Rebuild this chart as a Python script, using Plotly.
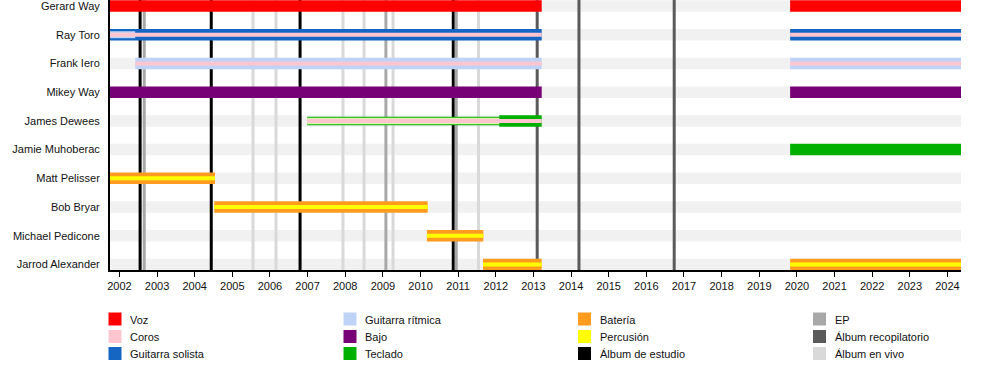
import plotly.graph_objects as go

# ---------------- data ----------------
members = ["Gerard Way", "Ray Toro", "Frank Iero", "Mikey Way", "James Dewees",
           "Jamie Muhoberac", "Matt Pelisser", "Bob Bryar", "Michael Pedicone",
           "Jarrod Alexander"]

role_names = ["Voz", "Coros", "Guitarra solista", "Guitarra rítmica", "Bajo",
              "Teclado", "Batería", "Percusión"]
role_colors = ["#ff0000", "#ffc6d0", "#1466c2", "#bfd3f6", "#770077",
               "#00b000", "#ff9c1f", "#ffff00"]

event_names = ["Álbum de estudio", "EP", "Álbum recopilatorio", "Álbum en vivo"]
event_colors = ["#000000", "#a8a8a8", "#5a5a5a", "#d9d9d9"]

timeline_start = 2001.75
timeline_end = 2024.36

# member periods (decimal years)
period_member = [
    "Gerard Way", "Gerard Way",
    "Ray Toro", "Ray Toro", "Ray Toro", "Ray Toro", "Ray Toro",
    "Frank Iero", "Frank Iero", "Frank Iero", "Frank Iero",
    "Mikey Way", "Mikey Way",
    "James Dewees", "James Dewees", "James Dewees",
    "Jamie Muhoberac",
    "Matt Pelisser", "Matt Pelisser",
    "Bob Bryar", "Bob Bryar",
    "Michael Pedicone", "Michael Pedicone",
    "Jarrod Alexander", "Jarrod Alexander", "Jarrod Alexander", "Jarrod Alexander",
]
period_role = [
    "Voz", "Voz",
    "Guitarra solista", "Guitarra solista", "Guitarra rítmica", "Coros", "Coros",
    "Guitarra rítmica", "Guitarra rítmica", "Coros", "Coros",
    "Bajo", "Bajo",
    "Teclado", "Teclado", "Coros",
    "Teclado",
    "Batería", "Percusión",
    "Batería", "Percusión",
    "Batería", "Percusión",
    "Batería", "Batería", "Percusión", "Percusión",
]
period_kind = [
    "main", "main",
    "main", "main", "second", "backing", "backing",
    "main", "main", "backing", "backing",
    "main", "main",
    "touring", "main", "backing",
    "main",
    "main", "backing",
    "main", "backing",
    "main", "backing",
    "main", "main", "backing", "backing",
]
period_start = [
    2001.75, 2019.82,
    2001.75, 2019.82, 2001.75, 2001.75, 2019.82,
    2002.42, 2019.82, 2002.42, 2019.82,
    2001.75, 2019.82,
    2006.99, 2012.09, 2006.99,
    2019.82,
    2001.75, 2001.75,
    2004.52, 2004.52,
    2010.17, 2010.17,
    2011.66, 2019.82, 2011.66, 2019.82,
]
period_end = [
    2013.22, 2024.36,
    2013.22, 2024.36, 2002.42, 2013.22, 2024.36,
    2013.22, 2024.36, 2013.22, 2024.36,
    2013.22, 2024.36,
    2012.09, 2013.22, 2013.22,
    2024.36,
    2004.54, 2004.54,
    2010.19, 2010.19,
    2011.67, 2011.67,
    2013.22, 2024.36, 2013.22, 2024.36,
]

event_dates = [2002.55, 2002.66, 2004.44, 2005.55, 2006.16, 2006.80, 2007.94,
               2008.50, 2009.08, 2009.27, 2010.87, 2010.95, 2011.54, 2013.10,
               2014.21, 2016.74]
event_types = ["Álbum de estudio", "EP", "Álbum de estudio", "Álbum en vivo",
               "Álbum en vivo", "Álbum de estudio", "Álbum en vivo", "Álbum en vivo",
               "EP", "Álbum en vivo", "Álbum de estudio", "EP", "Álbum en vivo",
               "Álbum recopilatorio", "Álbum recopilatorio", "Álbum recopilatorio"]

years = list(range(2002, 2025))

# ---------------- styling ----------------
W, H = 1000, 365
ML, MR, MT, MB = 110, 39, 0, 95
PW, PH = W - ML - MR, H - MT - MB
ROW_PX = 28.72
def px_to_units(p):
    return p / ROW_PX

y_top = -6 / ROW_PX
y_bottom = (len(members) - 1) + 5.5 / ROW_PX

kind_width = {"main": px_to_units(11.5), "second": px_to_units(7),
              "backing": px_to_units(4), "touring": px_to_units(8.5)}
touring_inner_color = "#ddf2ac"
band_color = "#f1f1f1"
FONT = "Liberation Sans, Arial, sans-serif"
role_color = dict(zip(role_names, role_colors))
event_color = dict(zip(event_names, event_colors))

fig = go.Figure()

# background bands per row
shapes = []
for i, m in enumerate(members):
    h = kind_width["main"] / 2
    shapes.append(dict(type="rect", xref="x", yref="y", layer="below",
                       x0=timeline_start, x1=timeline_end, y0=i - h, y1=i + h,
                       fillcolor=band_color, line=dict(width=0)))
# event lines (same subplot layer, drawn above the bands)
for d, t in zip(event_dates, event_types):
    shapes.append(dict(type="line", xref="x", yref="y", layer="below",
                       x0=d, x1=d, y0=y_top, y1=y_bottom,
                       line=dict(color=event_color[t], width=3)))

# bars, drawn in layering order
order = ["main", "touring", "second", "backing"]
for kind in order:
    for m, r, k, s, e in zip(period_member, period_role, period_kind,
                             period_start, period_end):
        if k != kind:
            continue
        yi = members.index(m)
        fig.add_trace(go.Bar(orientation="h", y=[yi], base=[s], x=[e - s],
                             width=kind_width[k], marker_color=role_color[r],
                             marker_line_width=0, showlegend=False,
                             hoverinfo="skip"))
        if k == "touring":
            fig.add_trace(go.Bar(orientation="h", y=[yi], base=[s], x=[e - s],
                                 width=kind_width[k] - px_to_units(2),
                                 marker_color=touring_inner_color,
                                 marker_line_width=0, showlegend=False,
                                 hoverinfo="skip"))

# legend (manual, 4 columns x 3 rows)
legend_names = role_names + event_names
legend_colors = role_colors + event_colors
col_x = [108.5, 343.5, 578, 813]
row_y = [312.5, 330, 347]
annotations = []
def xp(p):
    return (p - ML) / PW
def yp(p):
    return (MT + PH - p) / PH
for idx, (nm, c) in enumerate(zip(legend_names, legend_colors)):
    col, row = idx // 3, idx % 3
    x0, y0 = col_x[col], row_y[row]
    shapes.append(dict(type="rect", xref="paper", yref="paper",
                       x0=xp(x0), x1=xp(x0 + 13), y0=yp(y0), y1=yp(y0 + 13),
                       fillcolor=c, line=dict(width=0)))
    annotations.append(dict(xref="paper", yref="paper", x=xp(x0 + 19.5),
                            y=yp(y0 + 7.3), text=nm, showarrow=False,
                            xanchor="left", yanchor="middle",
                            font=dict(family=FONT, size=11, color="#111")))

fig.update_layout(
    width=W, height=H,
    margin=dict(l=ML, r=MR, t=MT, b=MB, pad=0, autoexpand=False),
    barmode="overlay",
    plot_bgcolor="white", paper_bgcolor="white",
    shapes=shapes, annotations=annotations,
    showlegend=False,
    font=dict(family=FONT, size=11, color="#111"),
)
fig.update_xaxes(range=[timeline_start, timeline_end], tickvals=years,
                 ticktext=[str(y) for y in years], showgrid=False,
                 zeroline=False, showline=True, linecolor="black", linewidth=2,
                 ticks="outside", ticklen=5, tickwidth=1, tickcolor="black",
                 automargin=False,
                 tickfont=dict(family=FONT, size=11, color="#111"))
fig.update_yaxes(range=[y_bottom, y_top],
                 tickvals=list(range(len(members))), ticktext=members,
                 showgrid=False, zeroline=False, showline=True,
                 linecolor="black", linewidth=2, ticks="outside", ticklen=6,
                 tickcolor="rgba(0,0,0,0)", automargin=False,
                 ticklabeloverflow="allow",
                 tickfont=dict(family=FONT, size=11, color="#111"))

fig.write_html("out.html", config={"displayModeBar": False},
               post_script="document.body.style.margin='0px';"
                           "document.body.style.overflow='hidden';")
